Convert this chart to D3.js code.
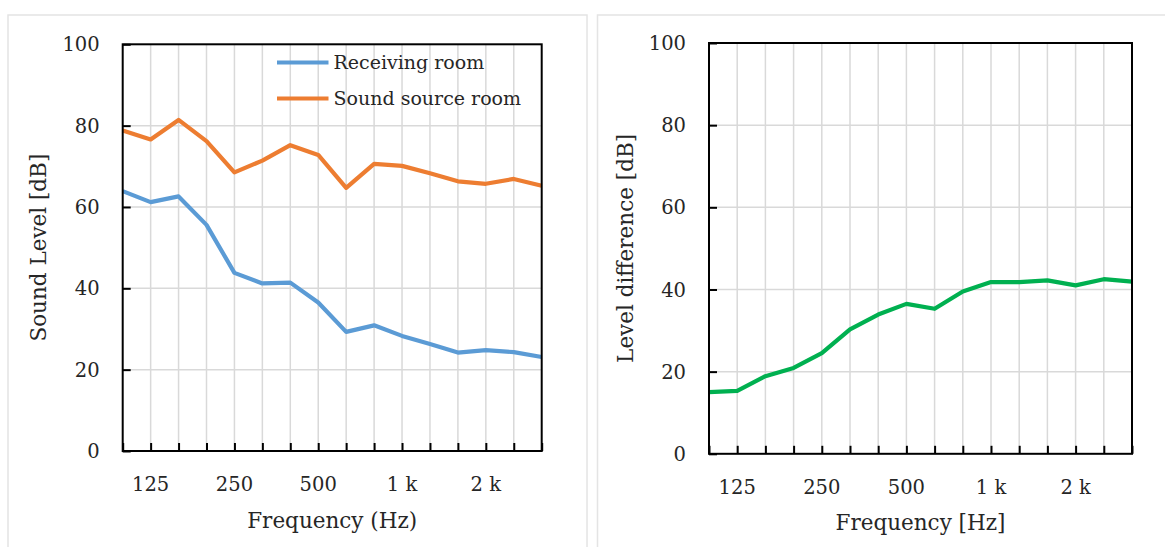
<!DOCTYPE html>
<html>
<head>
<meta charset="utf-8">
<script src="https://cdn.jsdelivr.net/npm/d3@7"></script>
<style>
html,body{margin:0;padding:0;background:#fff;}
svg{display:block;}
text{font-family:"DejaVu Serif",serif;fill:#262626;}
</style>
</head>
<body>
<svg id="chart" width="1165" height="547"></svg>
<script>
// ---- data ----
const frequencies = ["100","125","160","200","250","315","400","500","630","800","1000","1250","1600","2000","2500","3150"];
const tickLabels = {"125":"125","250":"250","500":"500","1000":"1 k","2000":"2 k"};
const receivingRoom = [63.9,61.2,62.6,55.6,43.8,41.2,41.4,36.5,29.3,30.9,28.3,26.3,24.2,24.8,24.3,23.1];
const sourceRoom    = [78.8,76.6,81.4,76.2,68.5,71.4,75.2,72.8,64.7,70.6,70.1,68.3,66.3,65.7,66.9,65.2];
const levelDifference = [15.0,15.3,18.9,20.9,24.5,30.3,33.9,36.5,35.3,39.5,41.8,41.8,42.2,41.0,42.5,41.9];
const yTicks = [0,20,40,60,80,100];

const svg = d3.select("#chart");

// panel frames
svg.append("rect").attr("x",8).attr("y",15).attr("width",579).attr("height",560)
  .attr("fill","none").attr("stroke","#e4e4e4").attr("stroke-width",1.5);
svg.append("rect").attr("x",597.5).attr("y",15).attr("width",600).attr("height",560)
  .attr("fill","none").attr("stroke","#e4e4e4").attr("stroke-width",1.5);

function panel(cfg){
  const x = d3.scalePoint().domain(frequencies).range([cfg.x0, cfg.x1]).padding(0);
  const y = d3.scaleLinear().domain([0,100]).range([cfg.y0, cfg.y1]);
  const g = svg.append("g");

  // gridlines
  g.append("g").selectAll("line.h").data(yTicks.filter(v=>v>0&&v<100)).join("line")
    .attr("x1",cfg.x0).attr("x2",cfg.x1).attr("y1",d=>y(d)).attr("y2",d=>y(d))
    .attr("stroke","#d9d9d9").attr("stroke-width",1.5);
  g.append("g").selectAll("line.v").data(frequencies.slice(1,-1)).join("line")
    .attr("x1",d=>x(d)).attr("x2",d=>x(d)).attr("y1",cfg.y0).attr("y2",cfg.y1)
    .attr("stroke","#d9d9d9").attr("stroke-width",1.5);

  // ticks (inward)
  const yAxis = d3.axisRight(y).tickValues(yTicks).tickSize(8).tickFormat("");
  const ya = g.append("g").attr("transform",`translate(${cfg.x0},0)`).call(yAxis);
  ya.select(".domain").remove();
  ya.selectAll("line").attr("stroke","#000").attr("stroke-width",2);
  const xAxis = d3.axisTop(x).tickSize(8).tickFormat("");
  const xa = g.append("g").attr("transform",`translate(0,${cfg.y0})`).call(xAxis);
  xa.select(".domain").remove();
  xa.selectAll("line").attr("stroke","#000").attr("stroke-width",2);

  // y tick labels
  g.append("g").selectAll("text").data(yTicks).join("text")
    .attr("x",cfg.x0-23).attr("y",d=>y(d)).attr("dy","0.36em")
    .attr("text-anchor","end").style("font-size","19.5px").text(d=>d);
  // x tick labels
  g.append("g").selectAll("text").data(frequencies.filter(f=>tickLabels[f])).join("text")
    .attr("x",d=>x(d)).attr("y",cfg.y0+40)
    .attr("text-anchor","middle").style("font-size","19.5px").text(d=>tickLabels[d]);

  // lines
  const line = d3.line().x((d,i)=>x(frequencies[i])).y(d=>y(d));
  cfg.series.forEach(s=>{
    g.append("path").datum(s.values).attr("d",line)
      .attr("fill","none").attr("stroke",s.color).attr("stroke-width",4.2)
      .attr("stroke-linejoin","round");
  });

  // frame
  g.append("rect").attr("x",cfg.x0).attr("y",cfg.y1).attr("width",cfg.x1-cfg.x0).attr("height",cfg.y0-cfg.y1)
    .attr("fill","none").attr("stroke","#000").attr("stroke-width",2);

  // axis titles
  g.append("text").attr("x",(cfg.x0+cfg.x1)/2).attr("y",cfg.xTitleY)
    .attr("text-anchor","middle").style("font-size","21.5px").text(cfg.xTitle);
  g.append("text").attr("transform",`translate(${cfg.yTitleX},${(cfg.y0+cfg.y1)/2}) rotate(-90)`)
    .attr("text-anchor","middle").style("font-size","21.5px").text(cfg.yTitle);
  return {x,y,g};
}

const left = panel({
  x0:122.7, x1:541.7, y0:451, y1:44.3,
  xTitle:"Frequency (Hz)", xTitleY:528, yTitle:"Sound Level [dB]", yTitleX:46,
  series:[{values:receivingRoom,color:"#5B9BD5"},{values:sourceRoom,color:"#ED7D31"}]
});
const right = panel({
  x0:709, x1:1132, y0:453.8, y1:43,
  xTitle:"Frequency [Hz]", xTitleY:530, yTitle:"Level difference [dB]", yTitleX:633,
  series:[{values:levelDifference,color:"#00B050"}]
});

// legend
const legendItems = [{name:"Receiving room",color:"#5B9BD5"},{name:"Sound source room",color:"#ED7D31"}];
const lg = svg.append("g");
legendItems.forEach((d,i)=>{
  const yy = 62.5 + i*36;
  lg.append("line").attr("x1",277).attr("x2",328.5).attr("y1",yy).attr("y2",yy)
    .attr("stroke",d.color).attr("stroke-width",4.2);
  lg.append("text").attr("x",333.5).attr("y",yy).attr("dy","0.36em")
    .style("font-size","19px").text(d.name);
});
</script>
</body>
</html>
